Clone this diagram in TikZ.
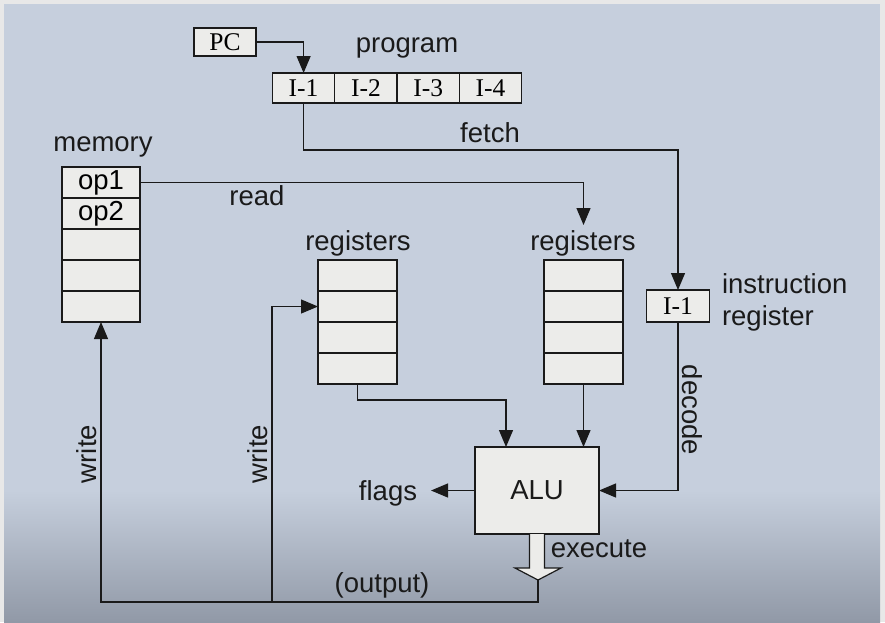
\documentclass[tikz,border=0pt]{standalone}
\usepackage{fontspec}
\setmainfont{Liberation Serif}
\setsansfont{Liberation Sans}
\usetikzlibrary{arrows.meta,calc}
\definecolor{bgtop}{HTML}{C6CFDD}
\definecolor{bgbot}{HTML}{9199A7}
\definecolor{frame}{HTML}{E8E8E8}
\definecolor{boxfill}{HTML}{ECECEA}
\definecolor{ink}{HTML}{1A1A1A}
\begin{document}
\begin{tikzpicture}[x=1pt,y=-1pt,
  every node/.style={inner sep=0pt,outer sep=0pt},
  cell/.style={draw=ink,line width=1.2pt,fill=boxfill,minimum width=78pt,minimum height=31pt},
  pcell/.style={draw=ink,line width=1.2pt,fill=boxfill,minimum width=62.3pt,minimum height=30pt,font=\fontsize{25.5}{28}\selectfont},
  lbl/.style={font=\sffamily\fontsize{27.5}{30}\selectfont,text=ink},
  conn/.style={draw=ink,line width=1.2pt},
  arr/.style={conn,-{Triangle[length=17pt,width=14pt]}}]
% background
\fill[frame] (0,0) rectangle (885,622);
\fill[bgtop] (4,4) rectangle (880,491);
\shade[top color=bgtop,bottom color=bgbot] (4,490) rectangle (880,622);
\useasboundingbox (0,0) rectangle (885,622);
% PC and program
\node[draw=ink,line width=1.2pt,fill=boxfill,minimum width=62pt,minimum height=28pt,font=\fontsize{25.5}{28}\selectfont] (pc) at (225,42) {PC};
\node[lbl] (prog) at (407,48) {program};
\node[pcell] (i1) at (303.6,88) {I-1};
\node[pcell] (i2) at (365.9,88) {I-2};
\node[pcell] (i3) at (428.2,88) {I-3};
\node[pcell] (i4) at (490.5,88) {I-4};
% memory
\node[lbl] (memlbl) at (103,147) {memory};
\node[cell,font=\sffamily\fontsize{27.5}{30}\selectfont] (m1) at (101,182.5) {op1};
\node[cell,font=\sffamily\fontsize{27.5}{30}\selectfont] (m2) at (101,213.5) {op2};
\node[cell] (m3) at (101,244.5) {};
\node[cell] (m4) at (101,275.5) {};
\node[cell] (m5) at (101,306.5) {};
% registers 1
\node[lbl] (r1lbl) at (358,243) {registers};
\node[cell,minimum width=79pt] (ra1) at (357.5,275.5) {};
\node[cell,minimum width=79pt] (ra2) at (357.5,306.5) {};
\node[cell,minimum width=79pt] (ra3) at (357.5,337.5) {};
\node[cell,minimum width=79pt] (ra4) at (357.5,368.5) {};
% registers 2
\node[lbl] (r2lbl) at (583,243) {registers};
\node[cell,minimum width=79pt] (rb1) at (583.5,275.5) {};
\node[cell,minimum width=79pt] (rb2) at (583.5,306.5) {};
\node[cell,minimum width=79pt] (rb3) at (583.5,337.5) {};
\node[cell,minimum width=79pt] (rb4) at (583.5,368.5) {};
% instruction register
\node[draw=ink,line width=1.2pt,fill=boxfill,minimum width=63pt,minimum height=32pt,font=\fontsize{25.5}{28}\selectfont] (ir) at (678,306) {I-1};
\node[lbl,anchor=west] (irl1) at (722,284) {instruction};
\node[lbl,anchor=west] (irl2) at (722,318) {register};
% ALU
\node[draw=ink,line width=1.2pt,fill=boxfill,minimum width=124pt,minimum height=87pt,lbl] (alu) at (537,490.5) {ALU};
% labels
\node[lbl] (fetch) at (490,133) {fetch};
\node[lbl] (read) at (257,196) {read};
\node[lbl,rotate=-90] (decode) at (692,410) {decode};
\node[lbl] (flags) at (388,493) {flags};
\node[lbl] (execute) at (599,549) {execute};
\node[lbl] (output) at (382,585) {(output)};
\node[lbl,rotate=90] (w1) at (87,454) {write};
\node[lbl,rotate=90] (w2) at (258,454) {write};
% helper coordinates
\coordinate (fy) at (0,150);
\coordinate (rt) at (583.5,225);
\coordinate (ry) at (0,400);
\coordinate (bot) at (0,602);
\coordinate (br) at (272,602);
\coordinate (ftip) at (431,490.5);
\coordinate (a1) at ($(alu.north west)+(31,0)$);
\coordinate (exetip) at (538,580);
% connectors
\draw[arr] (pc.east) -| (i1.north);
\draw[arr] (i1.south) -- (i1.south |- fy) -| (ir.north);
\draw[arr] (m1.east) -| (rt);
\draw[arr] (ra4.south) -- (ra4.south |- ry) -| (a1);
\draw[arr] (rb4.south) -- (rb4.south |- alu.north);
\draw[arr] (ir.south) |- (alu.east);
\draw[arr] (alu.west) -- (ftip);
% execute block arrow
\draw[ink,line width=1.2pt,fill=boxfill,line join=miter]
  ($(alu.south)+(-7.5,0)$) -- ++(0,34) -- (515,568) -- (exetip) -- (561,568) -- ($(alu.south)+(7.5,34)$) -- ($(alu.south)+(7.5,0)$);
\draw[arr] (exetip) -- (exetip |- bot) -| (m5.south);
\draw[arr] (br) |- (ra2.west);
\end{tikzpicture}
\end{document}
